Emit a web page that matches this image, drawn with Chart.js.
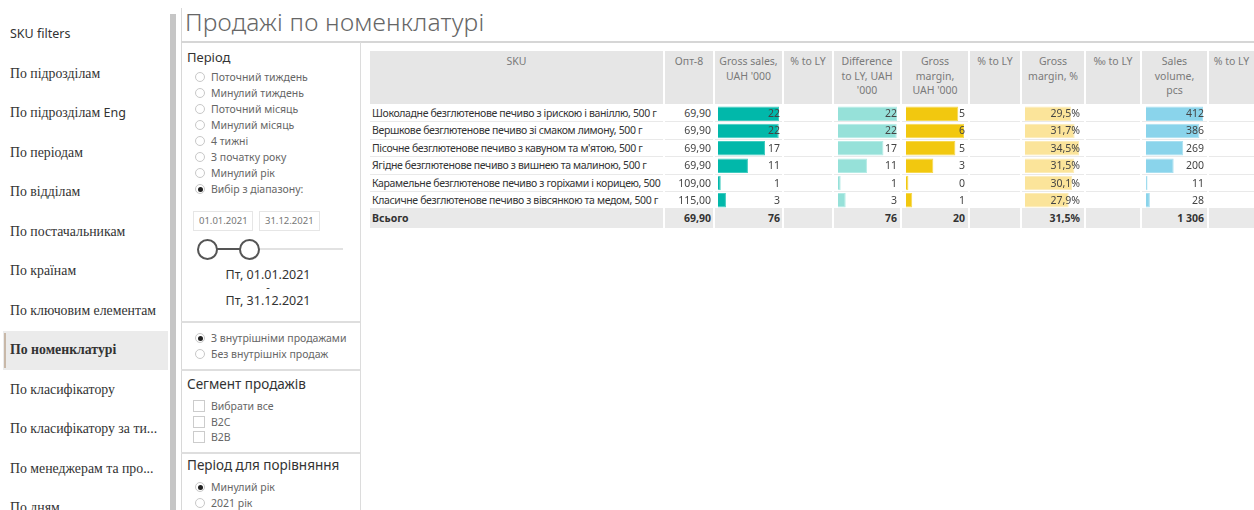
<!DOCTYPE html>
<html>
<head>
<meta charset="utf-8">
<script src="https://cdn.jsdelivr.net/npm/chart.js@4.4.1/dist/chart.umd.min.js"></script>
<style>
  html,body{margin:0;padding:0;background:#fff;}
  body{width:1254px;height:510px;position:relative;overflow:hidden;font-family:"Noto Sans",sans-serif;}
  .abs{position:absolute;}
  .nav{position:absolute;left:10px;font-family:"Liberation Serif","Times New Roman",serif;font-size:13.8px;color:#333;line-height:18px;white-space:nowrap;}
  .sans{font-family:"Noto Sans",sans-serif;font-size:12.5px;}
  .radio{position:absolute;width:8px;height:8px;border:1px solid #c8c8c8;border-radius:50%;background:#fff;}
  .radio.on::after{content:"";position:absolute;left:1.5px;top:1.5px;width:5px;height:5px;border-radius:50%;background:#222;}
  .opt{position:absolute;font-size:10.5px;color:#666;line-height:14px;white-space:nowrap;}
  .chk{position:absolute;width:10px;height:10px;border:1px solid #ccc;background:#fff;}
  .hdr{position:absolute;top:51px;height:53px;background:#e6e6e6;color:#7a7a7a;font-size:10.5px;line-height:14.5px;text-align:center;padding-top:3px;box-sizing:border-box;}
  .cell{position:absolute;font-size:10.5px;color:#444;line-height:17px;white-space:nowrap;}
  .rline{position:absolute;height:1px;background:#e9e9e9;}
  .dl{position:absolute;left:188px;width:160px;text-align:center;font-size:12.5px;color:#333;line-height:13px;height:13px;}
</style>
</head>
<body>
<script>
// ---------- DATA ----------
const navItems = ["SKU filters","По підрозділам","По підрозділам Eng","По періодам","По відділам","По постачальникам","По країнам","По ключовим елементам","По номенклатурі","По класифікатору","По класифікатору за ти...","По менеджерам та про...","По дням"];
const periodOptions = ["Поточний тиждень","Минулий тиждень","Поточний місяць","Минулий місяць","4 тижні","З початку року","Минулий рік","Вибір з діапазону:"];
const salesTypeOptions = ["З внутрішніми продажами","Без внутрішніх продаж"];
const segmentOptions = ["Вибрати все","B2C","B2B"];
const compareOptions = ["Минулий рік","2021 рік"];
const dateFrom = "01.01.2021";
const dateTo = "31.12.2021";
const dateFromLabel = "Пт, 01.01.2021";
const dateToLabel = "Пт, 31.12.2021";

const headers = ["SKU","Опт-8","Gross sales,<br>UAH '000","% to LY","Difference<br>to LY, UAH<br>'000","Gross<br>margin,<br>UAH '000","% to LY","Gross<br>margin, %","‰ to LY","Sales<br>volume,<br>pcs","% to LY"];
const skuNames = [
  "Шоколадне безглютенове печиво з ірискою і ваніллю, 500 г",
  "Вершкове безглютенове печиво зі смаком лимону, 500 г",
  "Пісочне безглютенове печиво з кавуном та м'ятою, 500 г",
  "Ягідне безглютенове печиво з вишнею та малиною, 500 г",
  "Карамельне безглютенове печиво з горіхами і корицею, 500 г",
  "Класичне безглютенове печиво з вівсянкою та медом, 500 г"
];
const opt8 = [69.90, 69.90, 69.90, 69.90, 109.00, 115.00];
const grossSales = [22.2, 22.1, 17.1, 10.9, 1.0, 2.9];
const diffToLY = [22.2, 22.1, 17.1, 10.9, 1.0, 2.9];
const grossMargin = [5.45, 6.05, 5.15, 2.85, 0.25, 0.65];
const grossMarginPct = [29.5, 31.7, 34.5, 31.5, 30.1, 27.9];
const salesVolume = [412, 386, 269, 200, 11, 28];
const totalLabel = "Всього";
const totals = {opt8:"69,90", grossSales:"76", diff:"76", margin:"20", marginPct:"31,5%", volume:"1 306"};

// ---------- LAYOUT ----------
function el(tag, cls, css, html){const e=document.createElement(tag); if(cls)e.className=cls; if(css)e.style.cssText=css; if(html!==undefined)e.innerHTML=html; document.body.appendChild(e); return e;}

// nav
const navTop = 25, navStep = 39.5;
el('div','abs','left:3px;top:331px;width:165px;height:39px;background:#ebebeb;');
el('div','abs','left:4px;top:333px;width:2px;height:35px;background:#c8b8a8;');
navItems.forEach((t,i)=>{
  let html = t;
  if(t==="SKU filters") html = '<span class="sans">SKU filters</span>';
  if(t.endsWith(" Eng")) html = t.replace(" Eng",' <span class="sans">Eng</span>');
  const d = el('div','nav','top:'+(navTop+i*navStep)+'px;',html);
  if(i===8) d.style.fontWeight='bold';
});
el('div','abs','left:170px;top:14px;width:6px;height:496px;background:#c6c6c6;');

// frame lines
el('div','abs','left:181px;top:8px;width:1px;height:502px;background:#d8d8d8;');
el('div','abs','left:181px;top:41px;width:1073px;height:2px;background:#d6d6d6;');
el('div','abs','left:360px;top:42px;width:1px;height:468px;background:#dcdcdc;');
[321,369,452].forEach(y=>el('div','abs','left:181px;top:'+y+'px;width:179px;height:2px;background:#dedede;'));

// title
el('div','abs','left:185px;top:5px;font-size:24.6px;font-weight:300;color:#666;white-space:nowrap;letter-spacing:0.2px;','Продажі по номенклатурі');

// period filter
el('div','abs','left:187px;top:48px;font-size:13px;color:#333;','Період');
periodOptions.forEach((t,i)=>{
  const y = 77+i*16;
  el('div','radio'+(i===7?' on':''),'left:195px;top:'+(y-5)+'px;');
  el('div','opt','left:211px;top:'+(y-7)+'px;',t);
});
el('div','abs','left:193px;top:211px;width:60px;height:20px;border:1px solid #e6e6e6;box-sizing:border-box;font-size:9.5px;color:#777;line-height:18px;padding-left:5px;',dateFrom);
el('div','abs','left:259px;top:211px;width:61px;height:20px;border:1px solid #e6e6e6;box-sizing:border-box;font-size:9.5px;color:#777;line-height:18px;padding-left:5px;',dateTo);
el('div','abs','left:200px;top:248px;width:143px;height:2px;background:#e2e2e2;');
el('div','abs','left:207px;top:248px;width:42px;height:2px;background:#555;');
el('div','abs','left:197px;top:239px;width:17px;height:17px;border:2px solid #555;border-radius:50%;background:#fff;');
el('div','abs','left:239px;top:239px;width:17px;height:17px;border:2px solid #555;border-radius:50%;background:#fff;');
el('div','dl','top:268px;',dateFromLabel);
el('div','dl','top:282px;font-size:11px;line-height:9px;height:9px;','-');
el('div','dl','top:294px;',dateToLabel);

salesTypeOptions.forEach((t,i)=>{
  const y = 338+i*15.5;
  el('div','radio'+(i===0?' on':''),'left:195px;top:'+(y-5)+'px;');
  el('div','opt','left:211px;top:'+(y-7)+'px;',t);
});
el('div','abs','left:187px;top:375px;font-size:13.5px;color:#333;','Сегмент продажів');
segmentOptions.forEach((t,i)=>{
  const y = 406+i*15.5;
  el('div','chk','left:193px;top:'+(y-6)+'px;');
  el('div','opt','left:211px;top:'+(y-7)+'px;',t);
});
el('div','abs','left:187px;top:456px;font-size:13.5px;color:#333;','Період для порівняння');
compareOptions.forEach((t,i)=>{
  const y = 487+i*16;
  el('div','radio'+(i===0?' on':''),'left:195px;top:'+(y-5)+'px;');
  el('div','opt','left:211px;top:'+(y-7)+'px;',t);
});

// table
const cols = [[370,663],[665,713],[715,782],[784,832],[834,900],[902,968],[970,1020],[1022,1084],[1086,1140],[1142,1207],[1209,1254]];
headers.forEach((h,i)=>{
  const [a,b]=cols[i];
  el('div','hdr','left:'+a+'px;width:'+(b-a)+'px;',h);
});
const rowTop = 105, rowH = 17.4;
for(let r=0;r<6;r++){
  const y = rowTop + r*rowH;
  el('div','rline','left:370px;top:'+Math.round(y+rowH-1)+'px;width:884px;');
}
// total band
el('div','abs','left:370px;top:209px;width:884px;height:19px;background:#e9e9e9;');
[663,713,782,832,900,968,1020,1084,1140,1207].forEach(x=>{
  el('div','abs','left:'+x+'px;top:209px;width:2px;height:19px;background:#fff;');
  el('div','abs','left:'+x+'px;top:105px;width:2px;height:104px;background:#fff;');
});

const fmt2 = v=>v.toFixed(2).replace('.',',');
const fmt0 = v=>String(Math.round(v));
const fmtPct = v=>v.toFixed(1).replace('.',',')+'%';

function textCol(values, right, fmt, z){
  values.forEach((v,r)=>{
    const y = rowTop + r*rowH;
    el('div','cell','left:'+(right-200)+'px;width:200px;text-align:right;top:'+(y)+'px;z-index:'+(z||2)+';',fmt(v));
  });
}
skuNames.forEach((t,r)=>{
  el('div','cell','left:372px;width:291px;overflow:hidden;top:'+(rowTop+r*rowH)+'px;color:#333;letter-spacing:-0.36px;',t);
});
textCol(opt8,711,fmt2);

function barChart(data, left, width, color, border){
  const c = el('canvas','abs','left:'+left+'px;top:'+rowTop+'px;z-index:1;');
  c.width = width; c.height = Math.round(rowH*6);
  c.style.width = width+'px'; c.style.height = Math.round(rowH*6)+'px';
  new Chart(c,{
    type:'bar',
    data:{labels:skuNames,datasets:[{data:data,backgroundColor:color,borderColor:border,borderWidth:1,barPercentage:0.88,categoryPercentage:0.95}]},
    options:{indexAxis:'y',responsive:false,animation:false,devicePixelRatio:1,
      layout:{padding:0},
      plugins:{legend:{display:false},tooltip:{enabled:false}},
      scales:{x:{display:false,min:0,max:Math.max(...data)},y:{display:false}}}
  });
}
barChart(grossSales,718,61,'#01B8AA','#40cbbf');
textCol(grossSales,780,fmt0);
barChart(diffToLY,838,59,'#96E1D9','#b4ebe5');
textCol(diffToLY,897,fmt0);
barChart(grossMargin,906,58,'#F2C80F','#f6d84f');
textCol(grossMargin,965,fmt0);
barChart(grossMarginPct,1025,54,'#FBE49A','#fcecb8');
textCol(grossMarginPct,1080,fmtPct);
barChart(salesVolume,1146,57,'#8AD4EB','#a9dff0');
textCol(salesVolume,1204,fmt0);

// totals
const ty = 210;
el('div','cell','left:372px;top:'+ty+'px;font-weight:bold;color:#333;line-height:17px;',totalLabel);
[[711,totals.opt8],[780,totals.grossSales],[897,totals.diff],[965,totals.margin],[1080,totals.marginPct],[1204,totals.volume]].forEach(([x,t])=>{
  el('div','cell','left:'+(x-200)+'px;width:200px;text-align:right;top:'+ty+'px;font-weight:bold;color:#333;',t);
});
</script>
</body>
</html>
